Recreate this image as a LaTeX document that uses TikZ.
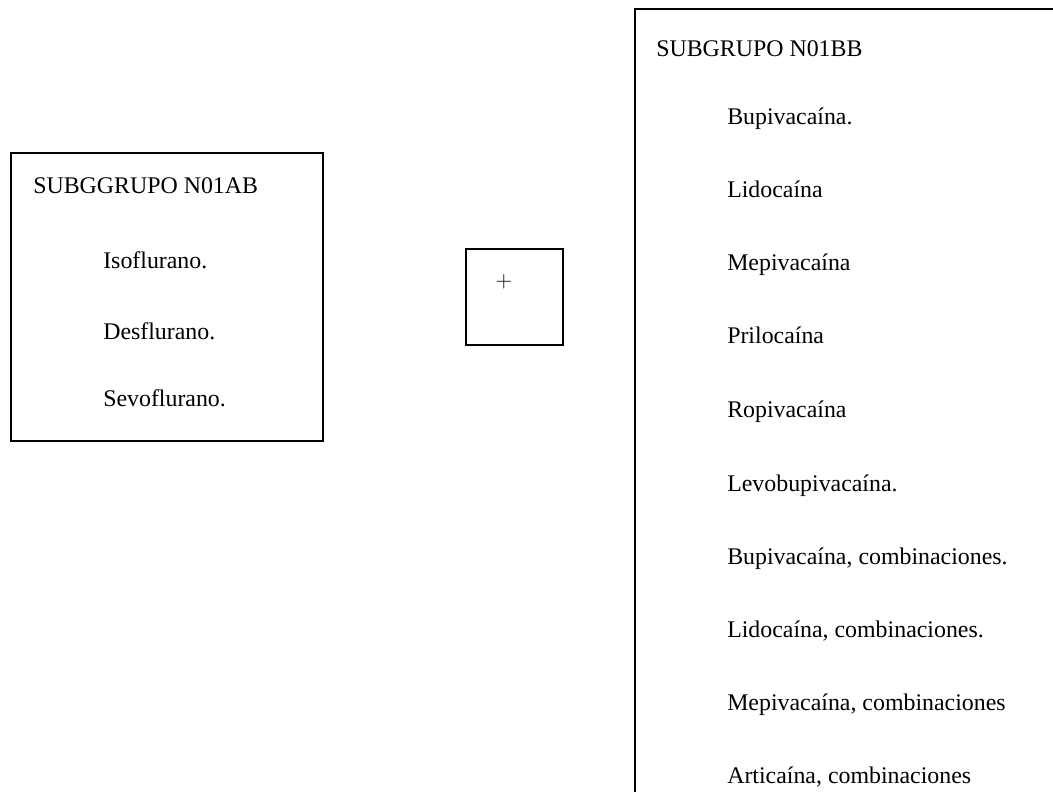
\documentclass[tikz,border=0pt]{standalone}
\usepackage{fontspec}
\setmainfont{Liberation Serif}
\tikzset{
  voce/.style={anchor=base west, inner sep=0pt, font=\fontsize{17.9}{20}\selectfont},
  riquadro/.style={draw=black, line width=1.3pt}
}
\begin{document}
\begin{tikzpicture}[x=0.75pt, y=-0.75pt]
    \useasboundingbox (0,0) rectangle (1053,792);
    \clip (0,0) rectangle (1053,792);

    % Riquadro del sottogruppo N01AB
    \draw[riquadro] (11,153) rectangle (323,441);
    \node[voce] (titoloab) at (33,193) {SUBGGRUPO N01AB};
    \node[voce] (iso) at (103,268) {Isoflurano.};
    \node[voce] (des) at (103,339) {Desflurano.};
    \node[voce] (sevo) at (103,406) {Sevoflurano.};

    % Riquadro piccolo con il segno piu
    \draw[riquadro] (466,249) rectangle (563,345);
    \node[voce, anchor=center] (piu) at (504,282) {$+$};

    % Riquadro del sottogruppo N01BB (tagliato a destra e in basso)
    \draw[riquadro] (635,9) rectangle (1080,820);
    \node[voce] (titolobb) at (656,57) {SUBGRUPO N01BB};
    \node[voce] (bupi) at (727,124) {Bupivacaína.};
    \node[voce] (lido) at (727,197) {Lidocaína};
    \node[voce] (mepi) at (727,270) {Mepivacaína};
    \node[voce] (prilo) at (727,343) {Prilocaína};
    \node[voce] (ropi) at (727,417) {Ropivacaína};
    \node[voce] (levo) at (727,491) {Levobupivacaína.};
    \node[voce] (bupicomb) at (727,564) {Bupivacaína, combinaciones.};
    \node[voce] (lidocomb) at (727,637) {Lidocaína, combinaciones.};
    \node[voce] (mepicomb) at (727,710) {Mepivacaína, combinaciones};
    \node[voce] (articomb) at (727,783) {Articaína, combinaciones};
\end{tikzpicture}
\end{document}
